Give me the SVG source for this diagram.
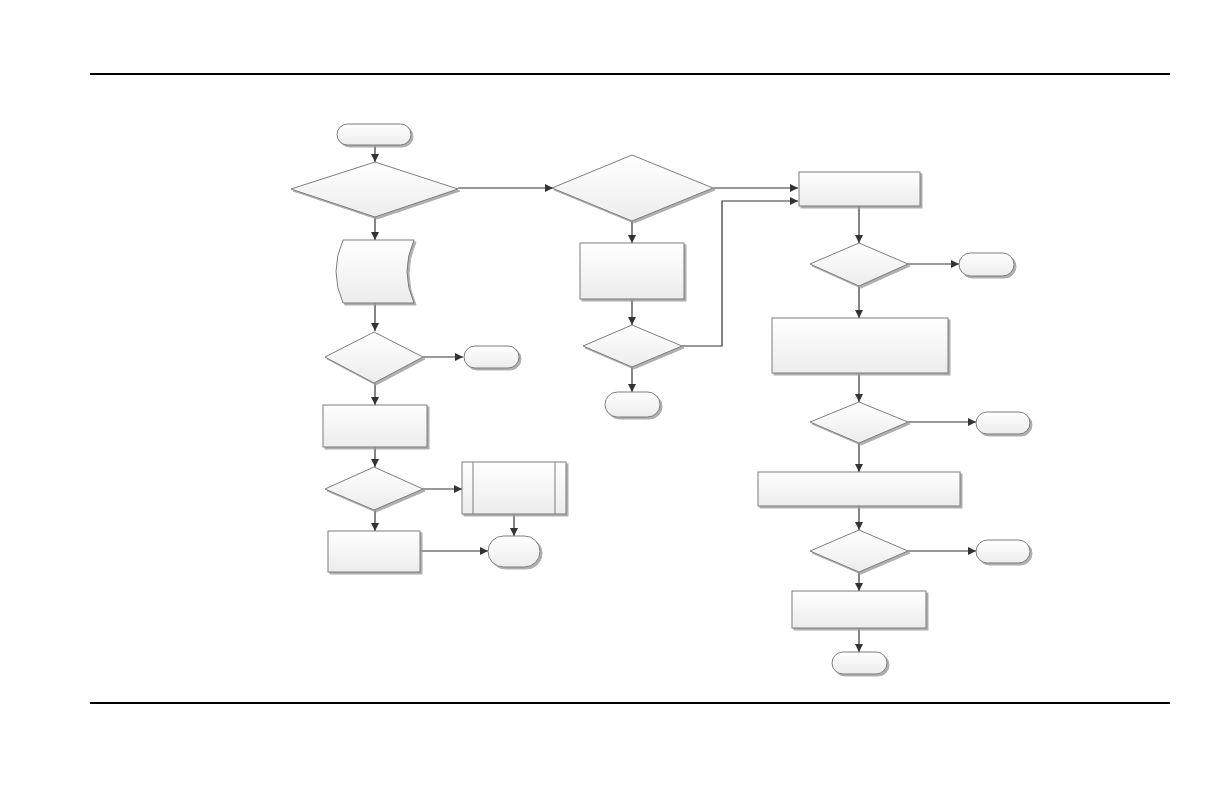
<svg xmlns="http://www.w3.org/2000/svg" width="1224" height="792" viewBox="0 0 1224 792">
<style>
.s{fill:url(#g);stroke:#7d7d7d;stroke-width:1;filter:url(#sh)}
.c{fill:none;stroke:#333;stroke-width:1.2;marker-end:url(#a)}
.cn{fill:none;stroke:#333;stroke-width:1.2}
.rule{stroke:#000;stroke-width:2}
</style>
<defs>
<linearGradient id="g" x1="0" y1="0" x2="0" y2="1">
<stop offset="0" stop-color="#ffffff"/>
<stop offset="1" stop-color="#ececec"/>
</linearGradient>
<filter id="sh" x="-10%" y="-10%" width="130%" height="140%">
<feDropShadow dx="2" dy="2" stdDeviation="0.7" flood-color="#9a9a9a" flood-opacity="0.8"/>
</filter>
<marker id="a" viewBox="0 0 10 10" refX="10" refY="5" markerWidth="8" markerHeight="8" markerUnits="userSpaceOnUse" orient="auto">
<path d="M0,0 L10,5 L0,10 Z" fill="#333"/>
</marker>
</defs>
<line class="rule" x1="90" y1="74" x2="1170" y2="74"/>
<line class="rule" x1="90" y1="703" x2="1170" y2="703"/>
<g id="connectors">
<path class="c" d="M375,145 V162"/>
<path class="c" d="M458,188 H553"/>
<path class="c" d="M375,217 V240"/>
<path class="c" d="M375,303 V331"/>
<path class="c" d="M423,357 H463"/>
<path class="c" d="M375,383 V405"/>
<path class="c" d="M375,447 V467"/>
<path class="c" d="M423,489 H462"/>
<path class="c" d="M514,514 V536"/>
<path class="c" d="M375,510 V531"/>
<path class="c" d="M420,551 H488"/>
<path class="c" d="M713,188 H798"/>
<path class="c" d="M632,221 V243"/>
<path class="c" d="M632,299 V325"/>
<path class="c" d="M682,346 H722 V201 H798"/>
<path class="c" d="M632,367 V392"/>
<path class="c" d="M859,206 V243"/>
<path class="c" d="M908,264 H959"/>
<path class="c" d="M859,286 V318"/>
<path class="c" d="M859,373 V402"/>
<path class="c" d="M908,422 H976"/>
<path class="c" d="M859,443 V472"/>
<path class="c" d="M859,506 V530"/>
<path class="c" d="M908,551 H976"/>
<path class="c" d="M859,572 V591"/>
<path class="c" d="M859,628 V652"/>
</g>
<g id="start"><rect class="s" x="337" y="124" width="74" height="21" rx="10.5"/></g>
<g id="d1"><polygon class="s" points="375,162 458,189 375,217 291,189"/></g>
<g id="data"><path class="s" d="M343,240 L414,240 Q400,271.5 414,303 L343,303 Q329,271.5 343,240 Z"/></g>
<g id="d3"><polygon class="s" points="374,332 423,357 374,383 325,357"/></g>
<g id="t2"><rect class="s" x="464" y="346" width="55" height="22" rx="11"/></g>
<g id="r1"><rect class="s" x="323" y="405" width="104" height="42"/></g>
<g id="d4"><polygon class="s" points="374,467 423,489 374,510 325,489"/></g>
<g id="p1"><rect class="s" x="462" y="462" width="104" height="52"/><line x1="473" y1="462" x2="473" y2="514" stroke="#7d7d7d"/><line x1="555" y1="462" x2="555" y2="514" stroke="#7d7d7d"/></g>
<g id="t3"><rect class="s" x="488" y="536" width="52" height="31" rx="15.5"/></g>
<g id="r2"><rect class="s" x="328" y="531" width="92" height="41"/></g>
<g id="d2"><polygon class="s" points="632,155 713,188 632,221 552,188"/></g>
<g id="r4"><rect class="s" x="580" y="243" width="104" height="56"/></g>
<g id="d5"><polygon class="s" points="632,325 682,346 632,367 583,346"/></g>
<g id="t4"><rect class="s" x="605" y="392" width="55" height="25" rx="12.5"/></g>
<g id="r3"><rect class="s" x="799" y="172" width="121" height="34"/></g>
<g id="d6"><polygon class="s" points="859,243 908,264 859,286 810,264"/></g>
<g id="t5"><rect class="s" x="959" y="253" width="55" height="23" rx="11.5"/></g>
<g id="r5"><rect class="s" x="772" y="318" width="176" height="55"/></g>
<g id="d7"><polygon class="s" points="859,402 908,422 859,443 810,422"/></g>
<g id="t6"><rect class="s" x="976" y="412" width="54" height="22" rx="11"/></g>
<g id="r6"><rect class="s" x="758" y="472" width="202" height="34"/></g>
<g id="d8"><polygon class="s" points="859,530 908,551 859,572 810,551"/></g>
<g id="t7"><rect class="s" x="976" y="540" width="54" height="23" rx="11.5"/></g>
<g id="r7"><rect class="s" x="792" y="591" width="134" height="37"/></g>
<g id="t8"><rect class="s" x="832" y="652" width="55" height="22" rx="11"/></g>
</svg>
